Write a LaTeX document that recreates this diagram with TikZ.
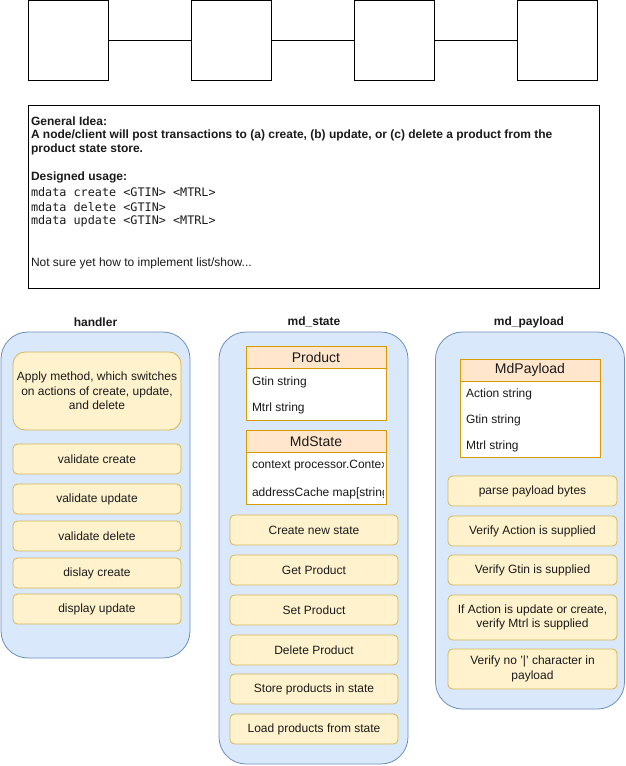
\documentclass[tikz,border=0pt]{standalone}
\usepackage{fontspec}
\setmainfont{Liberation Sans}
\newfontfamily\codefont{DejaVu Sans Mono}
\definecolor{groupfill}{HTML}{DAE8FC}
\definecolor{groupline}{HTML}{6C8EBF}
\definecolor{itemfill}{HTML}{FFF2CC}
\definecolor{itemline}{HTML}{D6B656}
\definecolor{headfill}{HTML}{FFE6CC}
\definecolor{headline}{HTML}{D79B00}
\definecolor{inktext}{HTML}{1A1A1A}
\begin{document}
\begin{tikzpicture}[x=1pt,y=-1pt,
  every node/.style={inner sep=0pt, outer sep=0pt, text=inktext},
  blank/.style={draw=black, line width=1pt, minimum width=80pt, minimum height=80pt},
  link/.style={draw=black, line width=1pt},
  notebox/.style={draw=black, line width=1pt, minimum width=571pt, minimum height=183pt},
  notebold/.style={anchor=west, font=\fontsize{12}{14}\selectfont\bfseries},
  noteplain/.style={anchor=west, font=\fontsize{12}{14}\selectfont},
  notecode/.style={anchor=west, font=\codefont\fontsize{11.8}{14}\selectfont},
  grouptitle/.style={font=\fontsize{12}{14}\selectfont\bfseries},
  group/.style={draw=groupline, fill=groupfill, line width=0.8pt, rounded corners=27pt, minimum width=189pt},
  item/.style={draw=itemline, fill=itemfill, line width=0.8pt, rounded corners=4.5pt,
    minimum height=30pt, align=center, font=\fontsize{12}{14.5}\selectfont},
  head/.style={draw=headline, fill=headfill, line width=0.8pt, minimum width=140pt, minimum height=22pt,
    font=\fontsize{14}{16}\selectfont},
  tbody/.style={draw=headline, fill=white, line width=0.8pt, minimum width=140pt},
  field/.style={anchor=west, font=\fontsize{12}{14}\selectfont}
]
\useasboundingbox (0,0) rectangle (626,766);

% chain of blank blocks
\node[blank] (b1) at (68,40.5) {};
\node[blank] (b2) at (231,40.5) {};
\node[blank] (b3) at (394,40.5) {};
\node[blank] (b4) at (557,40.5) {};
\draw[link] (b1.east) -- (b2.west);
\draw[link] (b2.east) -- (b3.west);
\draw[link] (b3.east) -- (b4.west);

% notes
\node[notebox] (idea) at (313.5,196.5) {};
\node[notebold] (t1) at (31,121) {General Idea:};
\node[notebold] (t2) at (31,135) {A node/client will post transactions to (a) create, (b) update, or (c) delete a product from the};
\node[notebold] (t3) at (31,149) {product state store.};
\node[notebold] (t4) at (31,177) {Designed usage:};
\node[notecode] (t5) at (31,192) {mdata create <GTIN> <MTRL>};
\node[notecode] (t6) at (31,207) {mdata delete <GTIN>};
\node[notecode] (t7) at (31,221) {mdata update <GTIN> <MTRL>};
\node[noteplain] (t8) at (31,263) {Not sure yet how to implement list/show...};

% handler
\node[grouptitle] (handlerT) at (95.5,322) {handler};
\node[group, minimum height=326pt] (handler) at (95.5,495) {};
\node[item, minimum width=168pt, minimum height=78pt, rounded corners=12pt] (apply) at (97,391)
  {Apply method, which switches\\on actions of create, update,\\and delete};
\node[item, minimum width=168pt] (vc) at (97,459) {validate create};
\node[item, minimum width=168pt] (vu) at (97,499) {validate update};
\node[item, minimum width=168pt] (vd) at (97,536) {validate delete};
\node[item, minimum width=168pt] (dc) at (97,573) {dislay create};
\node[item, minimum width=168pt] (du) at (97,609) {display update};

% md_state
\node[grouptitle] (stateT) at (314,322) {md\_state};
\node[group, minimum height=432pt] (state) at (313.5,548) {};
\node[head] (product) at (316,357) {Product};
\node[tbody, minimum height=52pt, anchor=north] (productB) at (product.south) {};
\node[field] (pg) at (252,382) {Gtin string};
\node[field] (pm) at (252,408) {Mtrl string};
\node[head] (mdstate) at (316,441) {MdState};
\node[tbody, minimum height=52pt, anchor=north] (mdstateB) at (mdstate.south) {};
\begin{scope}
  \clip (246,452) rectangle (383,504);
  \node[field] (sc) at (252,466) {context processor.Context};
  \node[field] (sa) at (252,493) {addressCache map[string]};
\end{scope}
\node[item, minimum width=168pt] (cns) at (314,530) {Create new state};
\node[item, minimum width=168pt] (gp) at (314,570) {Get Product};
\node[item, minimum width=168pt] (sp) at (314,610) {Set Product};
\node[item, minimum width=168pt] (dp) at (314,650) {Delete Product};
\node[item, minimum width=168pt] (spi) at (314,689) {Store products in state};
\node[item, minimum width=168pt] (lpf) at (314,729) {Load products from state};

% md_payload
\node[grouptitle] (payT) at (529,322) {md\_payload};
\node[group, minimum height=377pt] (pay) at (530,520.5) {};
\node[head] (mdpay) at (530,370) {MdPayload};
\node[tbody, minimum height=76pt, anchor=north] (mdpayB) at (mdpay.south) {};
\node[field] (pa) at (466,394) {Action string};
\node[field] (pgt) at (466,420) {Gtin string};
\node[field] (pmt) at (466,446) {Mtrl string};
\node[item, minimum width=169pt] (ppb) at (532.5,491) {parse payload bytes};
\node[item, minimum width=169pt] (va) at (532.5,531) {Verify Action is supplied};
\node[item, minimum width=169pt] (vg) at (532.5,570) {Verify Gtin is supplied};
\node[item, minimum width=169pt, minimum height=45pt] (vm) at (532.5,617.5)
  {If Action is update or create,\\verify Mtrl is supplied};
\node[item, minimum width=169pt, minimum height=40pt] (vp) at (532.5,669)
  {Verify no '|' character in\\payload};
\end{tikzpicture}
\end{document}
